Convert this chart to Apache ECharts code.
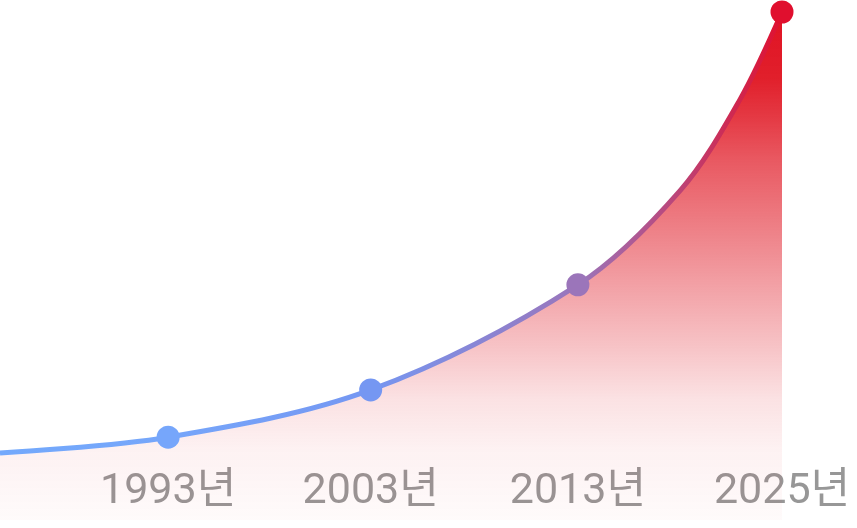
<!DOCTYPE html>
<html>
<head>
<meta charset="utf-8">
<script src="https://cdn.jsdelivr.net/npm/echarts@6/dist/echarts.min.js"></script>
<style>
    html, body { margin: 0; padding: 0; background: #fff; }
    #growthChart { width: 857px; height: 528px; }
</style>
</head>
<body>
<div id="growthChart"></div>
<script>
    // marked years and their labels
    const yearLabels = ['1993년', '2003년', '2013년', '2025년'];
    // horizontal position of each marked year (0 = left edge of curve, 100 = 2025)
    const markerX = [21.5, 47.4, 73.9, 100];
    // relative height at each marked year (2025 = 100)
    const markerY = [16.3, 25.6, 46.3, 100];
    const markerColors = ['#76a6fb', '#7597f2', '#9b75ba', '#e00f2e'];

    // curve trace (same units as above)
    const curveX = [0, 21.5, 47.4, 73.9, 87.0, 94.6, 100];
    const curveY = [13.2, 16.3, 25.6, 46.3, 64.9, 82.7, 100];

    const chart = echarts.init(document.getElementById('growthChart'));

    const curveData = curveX.map(function (x, i) { return [x, curveY[i]]; });
    const markerData = markerX.map(function (x, i) {
        return { value: [x, markerY[i]], itemStyle: { color: markerColors[i], opacity: 1 } };
    });

    chart.setOption({
        animation: false,
        grid: { left: 0, right: 75, top: 12, bottom: 8 },
        xAxis: {
            type: 'value',
            min: 0,
            max: 100,
            axisLine: { show: false },
            axisTick: { show: false },
            splitLine: { show: false },
            axisLabel: {
                inside: true,
                margin: 6,
                customValues: markerX,
                formatter: function (val) {
                    const idx = markerX.indexOf(val);
                    return idx >= 0 ? yearLabels[idx] : '';
                },
                fontSize: 43,
                fontFamily: 'Roboto, "Noto Sans CJK KR"',
                color: '#979797'
            }
        },
        yAxis: {
            type: 'value',
            min: 0,
            max: 100,
            show: false
        },
        series: [
            {
                type: 'line',
                data: curveData,
                smooth: 0.33,
                symbol: 'none',
                lineStyle: {
                    width: 5,
                    color: new echarts.graphic.LinearGradient(0, 0, 1, 0, [
                        { offset: 0, color: '#73a9fc' },
                        { offset: 0.22, color: '#76a6fa' },
                        { offset: 0.47, color: '#7597f2' },
                        { offset: 0.74, color: '#9b75ba' },
                        { offset: 1, color: '#e00f2e' }
                    ])
                },
                areaStyle: {
                    opacity: 1,
                    color: new echarts.graphic.LinearGradient(0, 0, 0, 1, [
                        { offset: 0, color: 'rgba(224,18,36,1)' },
                        { offset: 0.13, color: 'rgba(224,24,36,0.97)' },
                        { offset: 0.21, color: 'rgba(224,24,36,0.85)' },
                        { offset: 0.29, color: 'rgba(224,24,36,0.72)' },
                        { offset: 0.53, color: 'rgba(224,24,36,0.42)' },
                        { offset: 0.65, color: 'rgba(224,24,36,0.27)' },
                        { offset: 0.76, color: 'rgba(224,24,36,0.13)' },
                        { offset: 0.86, color: 'rgba(224,24,36,0.06)' },
                        { offset: 1, color: 'rgba(224,24,36,0.02)' }
                    ])
                }
            },
            {
                type: 'scatter',
                data: markerData,
                symbol: 'circle',
                symbolSize: 23,
                z: 3
            }
        ]
    });
</script>
</body>
</html>
